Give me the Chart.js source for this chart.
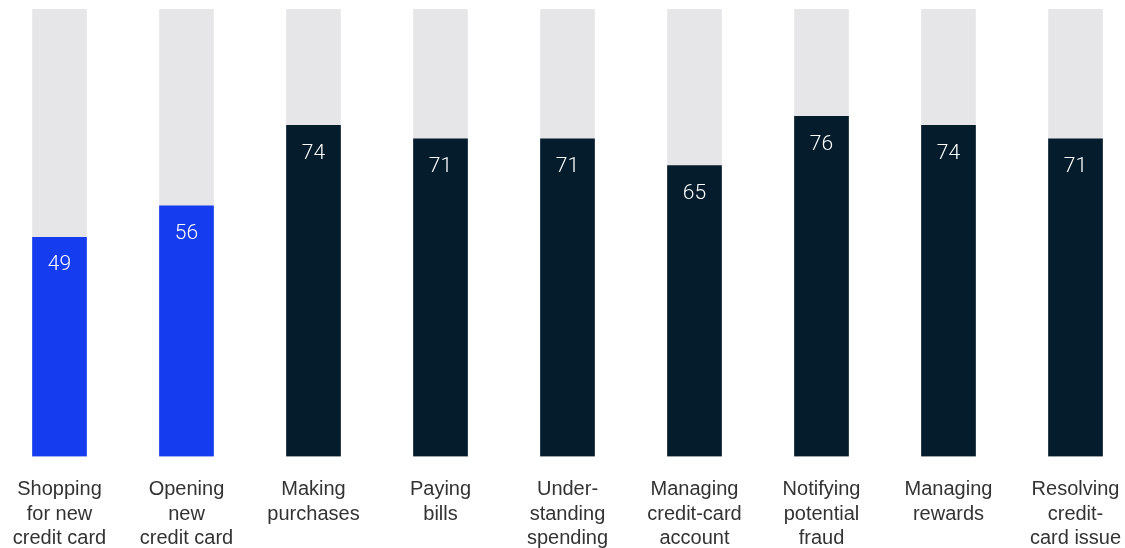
<!DOCTYPE html>
<html>
<head>
<meta charset="utf-8">
<script src="https://cdn.jsdelivr.net/npm/chart.js@4/dist/chart.umd.min.js"></script>
<style>
  html, body { margin: 0; padding: 0; background: #fff; overflow: hidden; }
  #wrap { position: absolute; left: -4px; top: 0; width: 1143px; height: 572px; }
</style>
</head>
<body>
<div id="wrap"><canvas id="chart"></canvas></div>
<script>
// Share of respondents (%) by credit-card activity
var categories = [
    ['Shopping', 'for new', 'credit card'],
    ['Opening', 'new', 'credit card'],
    ['Making', 'purchases'],
    ['Paying', 'bills'],
    ['Under-', 'standing', 'spending'],
    ['Managing', 'credit-card', 'account'],
    ['Notifying', 'potential', 'fraud'],
    ['Managing', 'rewards'],
    ['Resolving', 'credit-', 'card issue']
];
var values = [49, 56, 74, 71, 71, 65, 76, 74, 71];
var fullScale = [100, 100, 100, 100, 100, 100, 100, 100, 100];

var blue = '#163cef';
var navy = '#051c2c';
var barColors = values.map(function (v, i) { return i < 2 ? blue : navy; });

// white value labels near the top of each bar
var valueLabels = {
    id: 'valueLabels',
    afterDatasetsDraw: function (chart) {
        var ctx = chart.ctx;
        var meta = chart.getDatasetMeta(0);
        ctx.save();
        ctx.fillStyle = '#ffffff';
        ctx.font = '300 21px Roboto, "Liberation Sans", sans-serif';
        ctx.textAlign = 'center';
        ctx.textBaseline = 'middle';
        meta.data.forEach(function (bar, i) {
            ctx.fillText(values[i], bar.x, bar.y + 28);
        });
        ctx.restore();
    }
};

var ctx = document.getElementById('chart').getContext('2d');
new Chart(ctx, {
    type: 'bar',
    data: {
        labels: categories,
        datasets: [{
            data: values,
            backgroundColor: barColors,
            order: 0,
            barThickness: 54
        }, {
            data: fullScale,
            backgroundColor: '#e6e6e8',
            order: 1,
            barThickness: 54
        }]
    },
    options: {
        responsive: true,
        maintainAspectRatio: false,
        animation: false,
        layout: { padding: { top: 9, left: 0, right: 0, bottom: 0 } },
        plugins: { legend: { display: false }, tooltip: { enabled: false } },
        datasets: { bar: { grouped: false } },
        scales: {
            x: {
                grid: { display: false, drawTicks: false },
                border: { display: false },
                // let the edge labels overhang instead of squeezing the plot
                afterFit: function (scale) {
                    scale.paddingLeft = 0;
                    scale.paddingRight = 0;
                },
                ticks: {
                    padding: 21,
                    color: '#333333',
                    maxRotation: 0,
                    autoSkip: false,
                    font: { family: '"Liberation Sans", Arial, sans-serif', size: 20, lineHeight: '24.5px' }
                }
            },
            y: {
                display: false,
                min: 0,
                max: 100
            }
        }
    },
    plugins: [valueLabels]
});
</script>
</body>
</html>
